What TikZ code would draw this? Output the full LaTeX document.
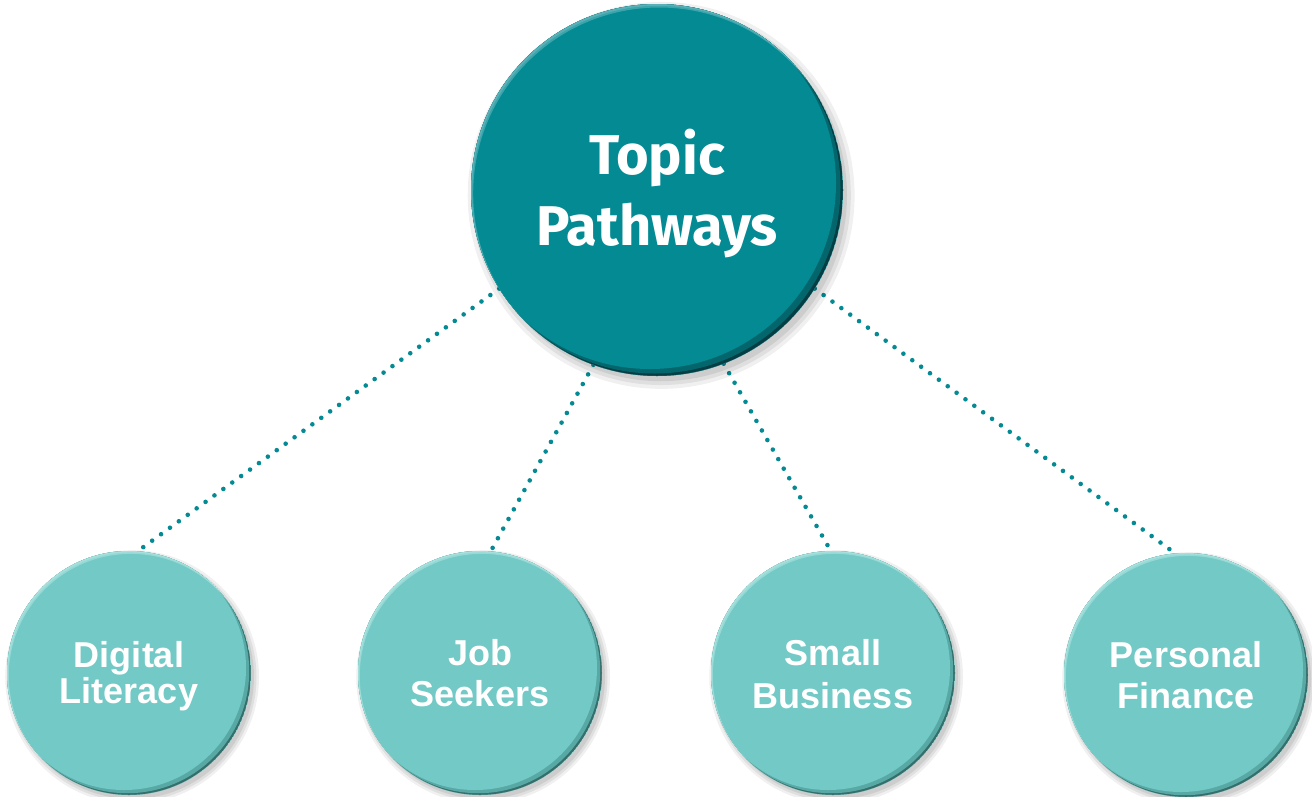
\documentclass[tikz,border=0pt]{standalone}
\usepackage{fontspec}
\setmainfont{Liberation Sans}
\newfontfamily\topicfont{Fira Sans}
\usetikzlibrary{shadows,calc,backgrounds}
\definecolor{bigbase}{HTML}{038A93}
\definecolor{bigmid}{HTML}{03666D}
\definecolor{bigdark}{HTML}{023E43}
\definecolor{biglight}{HTML}{6DBBC0}
\definecolor{smbase}{HTML}{72C9C5}
\definecolor{smmid}{HTML}{58A9A5}
\definecolor{smdark}{HTML}{356F6C}
\definecolor{smlight}{HTML}{B2E6E3}
\definecolor{dotc}{HTML}{048A93}
\newcommand\bubpic[8]{%
  \coordinate (pc) at (path picture bounding box.center);
  \fill[#4] (pc) circle[radius=#1pt];
  \fill[#3] ($(pc)+(-#6pt,#6pt)$) circle[radius=#1pt];
  \fill[#2] ($(pc)+(-#7pt,#7pt)$) circle[radius=#1pt];
  \fill[#5,opacity=0.55,even odd rule] (pc) circle[radius=#1pt] ($(pc)+(#8pt,-1.6*#8pt)$) circle[radius=#1pt];
  \fill[#5,opacity=0.6,even odd rule] (pc) circle[radius=#1pt] ($(pc)+(0.5*#8pt,-0.8*#8pt)$) circle[radius=#1pt];
}
\tikzset{
  softshadow/.style={
    drop shadow={shadow xshift=#1, shadow yshift=-1.3*#1, opacity=0.08, fill=black, shadow scale=1.0},
    drop shadow={shadow xshift=#1, shadow yshift=-1.3*#1, opacity=0.07, fill=black, shadow scale=1.02},
    drop shadow={shadow xshift=#1, shadow yshift=-1.3*#1, opacity=0.06, fill=black, shadow scale=1.04}},
  bigbub/.style={circle, inner sep=0pt, outer sep=0pt, minimum size=372pt, fill=bigbase,
    softshadow=4pt,
    path picture={\bubpic{186}{bigbase}{bigmid}{bigdark}{biglight}{2.5}{7}{2.2}}},
  smbub/.style={circle, inner sep=0pt, outer sep=0pt, minimum size=244pt, fill=smbase,
    softshadow=3pt,
    path picture={\bubpic{122}{smbase}{smmid}{smdark}{smlight}{1.8}{5}{1.8}}},
  biglbl/.style={text=white, font=\topicfont\bfseries\fontsize{56}{71}\selectfont, align=center},
  smlbl/.style={text=white, font=\bfseries\fontsize{36}{41}\selectfont, align=center},
  conn/.style={draw=dotc, line width=4.6pt, line cap=round, dash pattern=on 0pt off 11pt}
}
\begin{document}
\begin{tikzpicture}[x=1pt,y=-1pt]
\useasboundingbox (0,0) rectangle (1312,796);
\node[bigbub, label={[biglbl, yshift=-4pt]center:{Topic\\Pathways}}] (big) at (657,190) {};
\node[smbub, label={[smlbl, font=\bfseries\fontsize{36}{36}\selectfont, yshift=-3pt]center:{Digital\\Literacy}}] (dl) at (129,673) {};
\node[smbub, label={[smlbl, yshift=0pt]center:{Job\\Seekers}}] (js) at (480,673) {};
\node[smbub, label={[smlbl, font=\bfseries\fontsize{36}{43}\selectfont, yshift=-1.5pt]center:{Small\\Business}}] (sb) at (833,673) {};
\node[smbub, label={[smlbl, yshift=0pt]center:{Personal\\Finance}}] (pf) at (1186,675) {};
\begin{scope}[on background layer]
\draw[conn] (big.212) -- (dl.86);
\draw[conn] (big.250) -- (js.85);
\draw[conn] (big.291) -- (sb.91);
\draw[conn] (big.328) -- (pf.95);
\end{scope}
\end{tikzpicture}
\end{document}
